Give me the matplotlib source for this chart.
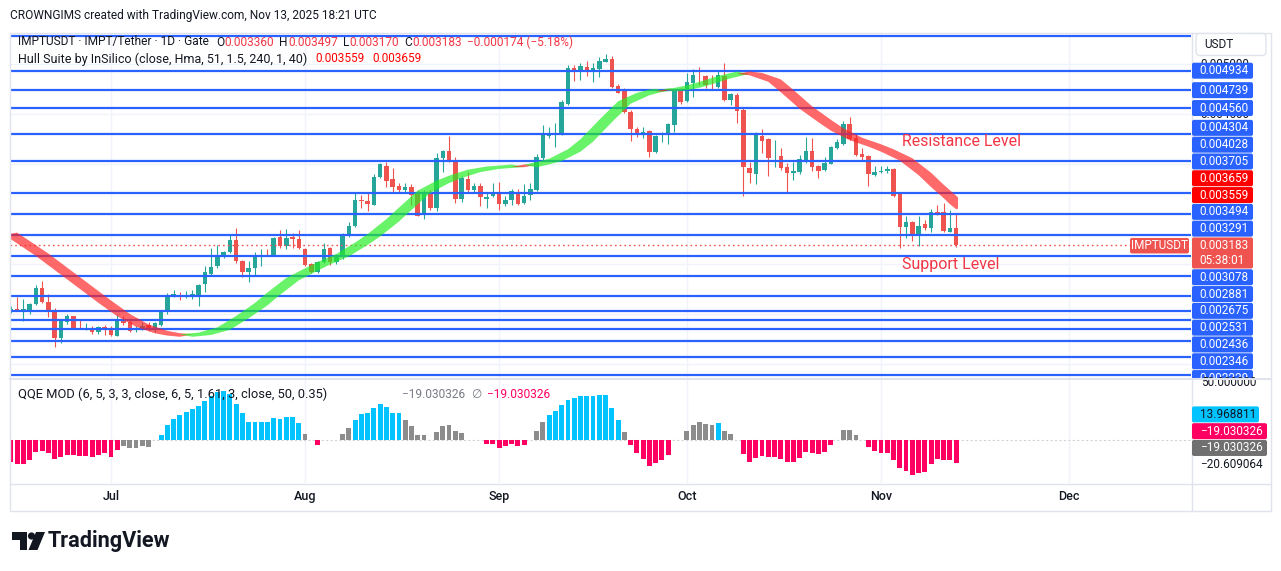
import numpy as np
import pandas as pd
import matplotlib
matplotlib.use('Agg')
import matplotlib.pyplot as plt
import matplotlib.dates as mdates
from matplotlib.patches import Rectangle, Polygon, FancyBboxPatch, Circle

plt.rcParams['font.family'] = ['Roboto', 'DejaVu Sans']

# ---------------- data ----------------
dates = pd.date_range('2025-06-15', '2025-11-13', freq='D')

open_ = [25.20e-4, 25.47e-4, 25.30e-4, 25.40e-4, 25.93e-4, 27.60e-4, 26.17e-4, 25.40e-4, 22.53e-4, 24.17e-4, 24.77e-4, 23.60e-4, 23.50e-4, 23.60e-4, 23.13e-4, 23.67e-4,
         23.60e-4, 22.80e-4, 24.37e-4, 24.20e-4, 23.50e-4, 23.50e-4, 23.90e-4, 23.40e-4, 23.90e-4, 25.13e-4,
         26.87e-4, 26.90e-4, 26.67e-4, 26.83e-4, 26.83e-4, 27.93e-4, 29.00e-4, 29.73e-4, 30.73e-4, 31.17e-4,
         32.40e-4, 30.30e-4, 29.20e-4, 29.53e-4, 30.67e-4, 30.87e-4, 30.83e-4, 32.63e-4, 31.80e-4, 32.67e-4,
         32.50e-4, 31.50e-4, 30.00e-4, 29.13e-4, 30.17e-4, 31.60e-4, 30.20e-4, 30.73e-4, 32.83e-4, 33.77e-4,
         36.40e-4, 36.30e-4, 35.93e-4, 38.70e-4, 39.80e-4, 38.47e-4, 37.80e-4, 37.40e-4, 37.70e-4, 37.00e-4,
         34.87e-4, 37.23e-4, 35.63e-4, 40.57e-4, 41.30e-4, 40.37e-4, 36.50e-4, 38.50e-4, 37.40e-4, 37.80e-4,
         36.47e-4, 36.74e-4, 37.04e-4, 36.01e-4, 36.34e-4, 37.18e-4, 36.08e-4, 36.84e-4, 37.34e-4, 40.58e-4,
         42.81e-4, 42.94e-4, 42.94e-4, 46.01e-4, 49.58e-4, 49.28e-4, 49.68e-4, 49.41e-4, 49.54e-4, 50.24e-4,
         50.51e-4, 47.81e-4, 47.41e-4, 45.24e-4, 43.48e-4, 43.14e-4, 43.31e-4, 41.24e-4, 42.88e-4, 42.88e-4,
         43.91e-4, 47.51e-4, 46.31e-4, 48.14e-4, 48.84e-4, 48.81e-4, 47.94e-4, 47.74e-4, 48.84e-4, 46.41e-4,
         46.91e-4, 45.41e-4, 39.64e-4, 39.01e-4, 42.81e-4, 42.48e-4, 40.78e-4, 40.78e-4, 39.71e-4, 39.08e-4,
         39.24e-4, 40.34e-4, 41.31e-4, 39.84e-4, 39.38e-4, 40.01e-4, 41.61e-4, 42.01e-4, 44.01e-4, 42.58e-4,
         41.01e-4, 40.81e-4, 38.84e-4, 39.21e-4, 39.28e-4, 39.48e-4, 37.01e-4, 33.68e-4, 34.14e-4, 32.81e-4,
         33.94e-4, 33.61e-4, 35.18e-4, 35.18e-4, 33.21e-4, 33.60e-4]
high = [25.73e-4, 26.63e-4, 26.47e-4, 26.07e-4, 27.90e-4, 28.23e-4, 27.00e-4, 25.57e-4, 24.50e-4, 24.93e-4, 24.80e-4, 24.50e-4, 24.10e-4, 23.73e-4, 23.80e-4, 23.90e-4,
        23.73e-4, 24.90e-4, 24.73e-4, 24.37e-4, 23.73e-4, 24.13e-4, 24.13e-4, 24.13e-4, 25.33e-4, 27.03e-4,
        27.33e-4, 27.13e-4, 27.23e-4, 27.40e-4, 28.00e-4, 29.73e-4, 31.53e-4, 31.90e-4, 31.30e-4, 32.87e-4,
        33.60e-4, 30.40e-4, 30.23e-4, 31.13e-4, 31.47e-4, 31.47e-4, 32.70e-4, 33.40e-4, 33.50e-4, 33.07e-4,
        33.33e-4, 31.57e-4, 30.07e-4, 30.30e-4, 32.07e-4, 31.70e-4, 31.00e-4, 33.07e-4, 34.20e-4, 37.07e-4,
        36.90e-4, 37.17e-4, 38.97e-4, 40.13e-4, 40.23e-4, 39.63e-4, 38.07e-4, 38.13e-4, 38.03e-4, 37.40e-4,
        37.40e-4, 37.40e-4, 41.07e-4, 41.40e-4, 42.80e-4, 40.73e-4, 38.80e-4, 39.17e-4, 38.13e-4, 38.13e-4,
        37.07e-4, 38.08e-4, 38.18e-4, 36.74e-4, 37.48e-4, 37.48e-4, 37.94e-4, 38.08e-4, 41.01e-4, 43.91e-4,
        43.74e-4, 44.08e-4, 46.41e-4, 49.91e-4, 49.91e-4, 50.14e-4, 50.31e-4, 50.08e-4, 50.74e-4, 51.01e-4,
        50.84e-4, 47.98e-4, 47.58e-4, 45.41e-4, 43.74e-4, 43.68e-4, 43.41e-4, 42.91e-4, 43.24e-4, 44.08e-4,
        47.48e-4, 47.64e-4, 49.08e-4, 49.48e-4, 49.74e-4, 48.91e-4, 48.91e-4, 49.34e-4, 50.08e-4, 47.14e-4,
        47.14e-4, 45.74e-4, 40.24e-4, 43.24e-4, 43.48e-4, 42.58e-4, 42.41e-4, 41.58e-4, 40.08e-4, 40.24e-4,
        40.91e-4, 42.74e-4, 42.58e-4, 39.91e-4, 40.68e-4, 41.84e-4, 42.48e-4, 44.31e-4, 44.74e-4, 43.01e-4,
        41.58e-4, 40.91e-4, 39.81e-4, 39.81e-4, 39.81e-4, 39.58e-4, 37.14e-4, 34.74e-4, 34.24e-4, 34.74e-4,
        34.41e-4, 35.48e-4, 35.91e-4, 36.08e-4, 35.34e-4, 34.97e-4]
low = [25.07e-4, 25.23e-4, 24.23e-4, 25.00e-4, 25.83e-4, 26.07e-4, 24.67e-4, 21.67e-4, 22.07e-4, 24.00e-4, 23.50e-4, 23.47e-4, 23.37e-4, 22.93e-4, 23.00e-4, 22.87e-4,
       22.73e-4, 22.73e-4, 23.83e-4, 23.13e-4, 23.13e-4, 23.40e-4, 23.30e-4, 23.13e-4, 23.73e-4, 25.00e-4,
       26.67e-4, 26.33e-4, 26.53e-4, 26.47e-4, 25.73e-4, 27.13e-4, 28.80e-4, 29.57e-4, 30.57e-4, 31.07e-4,
       30.07e-4, 28.67e-4, 28.13e-4, 28.83e-4, 29.73e-4, 30.73e-4, 30.73e-4, 31.53e-4, 31.50e-4, 31.57e-4,
       31.50e-4, 29.80e-4, 29.07e-4, 29.07e-4, 30.07e-4, 29.90e-4, 30.00e-4, 30.47e-4, 32.67e-4, 33.67e-4,
       35.57e-4, 35.30e-4, 35.87e-4, 38.63e-4, 37.73e-4, 37.07e-4, 37.07e-4, 37.17e-4, 35.90e-4, 34.80e-4,
       34.50e-4, 35.40e-4, 35.33e-4, 39.17e-4, 40.23e-4, 36.13e-4, 36.23e-4, 37.23e-4, 37.23e-4, 35.83e-4,
       35.63e-4, 36.64e-4, 35.34e-4, 35.81e-4, 35.88e-4, 35.88e-4, 36.01e-4, 36.34e-4, 37.31e-4, 40.41e-4,
       42.58e-4, 41.68e-4, 42.88e-4, 45.91e-4, 48.34e-4, 48.41e-4, 48.84e-4, 48.24e-4, 48.74e-4, 50.18e-4,
       47.64e-4, 47.08e-4, 45.08e-4, 42.34e-4, 42.74e-4, 42.64e-4, 40.74e-4, 41.14e-4, 42.24e-4, 42.01e-4,
       43.24e-4, 45.98e-4, 46.18e-4, 46.74e-4, 47.91e-4, 47.58e-4, 47.41e-4, 47.58e-4, 46.35e-4, 45.91e-4,
       44.14e-4, 36.74e-4, 38.08e-4, 38.01e-4, 41.14e-4, 38.74e-4, 39.74e-4, 39.41e-4, 37.08e-4, 38.41e-4,
       39.01e-4, 40.08e-4, 39.34e-4, 38.58e-4, 39.34e-4, 39.98e-4, 41.51e-4, 41.91e-4, 42.41e-4, 40.81e-4,
       40.31e-4, 37.74e-4, 38.81e-4, 39.14e-4, 39.08e-4, 36.64e-4, 31.58e-4, 32.58e-4, 32.24e-4, 31.81e-4,
       33.41e-4, 33.14e-4, 34.84e-4, 33.14e-4, 33.14e-4, 31.70e-4]
close = [25.47e-4, 25.27e-4, 25.50e-4, 26.00e-4, 27.60e-4, 26.13e-4, 25.23e-4, 22.60e-4, 24.37e-4, 24.80e-4, 23.57e-4, 23.50e-4, 23.57e-4, 23.13e-4, 23.67e-4, 23.47e-4,
         22.83e-4, 24.47e-4, 24.10e-4, 23.30e-4, 23.57e-4, 23.80e-4, 23.40e-4, 24.03e-4, 25.23e-4, 26.70e-4,
         26.93e-4, 26.83e-4, 26.73e-4, 26.93e-4, 27.90e-4, 29.20e-4, 29.70e-4, 30.83e-4, 31.20e-4, 32.40e-4,
         30.23e-4, 29.20e-4, 29.60e-4, 30.80e-4, 30.90e-4, 30.80e-4, 32.60e-4, 31.80e-4, 32.60e-4, 32.43e-4,
         31.53e-4, 29.90e-4, 29.13e-4, 30.17e-4, 31.50e-4, 30.17e-4, 30.83e-4, 32.87e-4, 33.77e-4, 36.40e-4,
         36.30e-4, 36.03e-4, 38.70e-4, 39.97e-4, 38.33e-4, 37.73e-4, 37.40e-4, 37.70e-4, 36.90e-4, 34.83e-4,
         37.20e-4, 35.57e-4, 40.57e-4, 41.30e-4, 40.33e-4, 36.50e-4, 38.63e-4, 37.40e-4, 37.83e-4, 36.73e-4,
         36.73e-4, 37.08e-4, 36.01e-4, 36.41e-4, 37.31e-4, 36.01e-4, 36.81e-4, 37.48e-4, 40.68e-4, 42.94e-4,
         42.98e-4, 43.01e-4, 46.21e-4, 49.58e-4, 49.24e-4, 49.81e-4, 49.41e-4, 49.58e-4, 50.31e-4, 50.51e-4,
         47.74e-4, 47.14e-4, 45.21e-4, 43.48e-4, 43.08e-4, 43.24e-4, 41.18e-4, 42.81e-4, 43.01e-4, 43.98e-4,
         47.41e-4, 46.21e-4, 48.21e-4, 48.91e-4, 48.78e-4, 47.88e-4, 47.88e-4, 48.88e-4, 46.41e-4, 47.04e-4,
         45.34e-4, 39.68e-4, 39.08e-4, 43.01e-4, 42.31e-4, 40.64e-4, 40.84e-4, 39.64e-4, 39.08e-4, 39.34e-4,
         40.51e-4, 41.31e-4, 39.68e-4, 39.34e-4, 40.08e-4, 41.74e-4, 42.24e-4, 44.01e-4, 42.48e-4, 40.91e-4,
         40.68e-4, 38.94e-4, 39.21e-4, 39.28e-4, 39.48e-4, 36.81e-4, 33.64e-4, 34.14e-4, 32.81e-4, 33.81e-4,
         33.54e-4, 35.18e-4, 35.11e-4, 33.24e-4, 33.61e-4, 31.83e-4]

# Hull Suite (MHULL) read at sample dates
hull_dates = ['2025-06-14', '2025-06-19', '2025-06-24', '2025-06-29', '2025-07-02', '2025-07-05', '2025-07-08',
              '2025-07-10', '2025-07-12', '2025-07-15', '2025-07-18', '2025-07-21', '2025-07-24', '2025-07-26',
              '2025-07-29', '2025-07-31', '2025-08-03', '2025-08-06', '2025-08-09', '2025-08-11', '2025-08-14',
              '2025-08-16', '2025-08-19', '2025-08-22', '2025-08-24', '2025-08-27', '2025-08-30', '2025-09-02',
              '2025-09-03', '2025-09-05', '2025-09-07', '2025-09-09', '2025-09-12', '2025-09-14', '2025-09-17',
              '2025-09-20', '2025-09-23', '2025-09-25', '2025-09-26', '2025-09-27', '2025-09-29', '2025-10-01',
              '2025-10-03', '2025-10-06', '2025-10-09', '2025-10-11', '2025-10-14', '2025-10-16', '2025-10-19',
              '2025-10-22', '2025-10-24', '2025-10-27', '2025-10-30', '2025-11-01', '2025-11-04', '2025-11-07',
              '2025-11-09', '2025-11-11', '2025-11-12', '2025-11-13']
hull_vals = [33.0e-4, 30.9e-4, 28.55e-4, 26.2e-4, 24.85e-4, 23.8e-4, 23.15e-4, 22.92e-4, 22.80e-4, 22.98e-4,
             23.5e-4, 24.65e-4, 25.95e-4, 27.0e-4, 28.45e-4, 29.1e-4, 30.05e-4, 30.85e-4, 32.0e-4, 32.85e-4,
             34.35e-4, 35.5e-4, 37.2e-4, 38.2e-4, 38.7e-4, 39.3e-4, 39.62e-4, 39.76e-4, 39.82e-4, 39.79e-4,
             40.08e-4, 40.4e-4, 41.35e-4, 42.35e-4, 44.3e-4, 46.15e-4, 47.0e-4, 47.33e-4, 47.40e-4, 47.37e-4,
             47.5e-4, 47.75e-4, 48.1e-4, 48.7e-4, 49.14e-4, 49.0e-4, 48.35e-4, 47.3e-4, 45.65e-4, 44.3e-4,
             43.45e-4, 42.5e-4, 41.85e-4, 41.35e-4, 40.45e-4, 39.0e-4, 37.8e-4, 36.7e-4, 36.09e-4, 35.59e-4]
hull_last = [0.003559, 0.003659]

# horizontal drawn levels
levels = [0.005281, 0.004934, 0.004739, 0.004560, 0.004304, 0.004028, 0.003705, 0.003494, 0.003291,
          0.003078, 0.002881, 0.002675, 0.002531, 0.002436, 0.002346, 0.002229, 0.002061, 0.001881]
price_ticks = [0.0050, 0.0045, 0.0040, 0.0035, 0.0030, 0.0025, 0.0020]

# QQE MOD histogram
qqe_vals = [-18.1, -20.0, -20.0, -16.7, -9.7, -9.2, -10.6, -15.8, -13.9, -12.5, -12.5, -13.1, -13.3, -13.9, -12.5, -11.1,
            -13.9, -8.3, -5.0, -6.4, -6.4, -5.0, -5.6, 0.0, 4.2, 12.5,
            17.2, 20.8, 23.6, 25.6, 28.3, 32.8, 36.7, 40.3, 41.1, 38.3,
            30.0, 22.2, 15.3, 14.7, 14.7, 14.7, 18.6, 17.2, 18.9, 18.9,
            14.4, 5.0, 0.0, -3.9, 0.0, 0.0, 0.0, 5.0, 9.7, 16.7,
            21.4, 22.8, 26.4, 30.0, 27.2, 22.8, 22.2, 16.7, 11.7, 4.2,
            4.2, 0.0, 6.9, 11.7, 12.5, 7.8, 5.6, 0.0, 0.0, 0.0,
            -3.3, -3.3, -6.9, -5.0, -3.3, -5.0, -4.2, 0.0, 7.8, 14.7,
            20.8, 24.4, 29.2, 33.3, 35.3, 36.9, 36.9, 36.9, 37.5, 37.5,
            26.9, 16.7, 6.7, -3.9, -10.6, -15.6, -21.4, -18.9, -16.7, -12.2,
            0.0, 0.0, 7.5, 12.5, 15.0, 13.3, 12.5, 14.2, 7.5, 5.0,
            0.0, -11.7, -18.1, -15.0, -13.3, -13.9, -13.9, -15.6, -18.1, -18.1,
            -15.0, -9.7, -10.6, -11.7, -9.7, -3.9, 0.0, 8.3, 8.3, 4.2,
            0.0, -5.6, -8.9, -10.6, -10.6, -16.7, -23.1, -25.6, -28.9, -27.2,
            -26.4, -20.0, -15.6, -16.7, -16.7, -19.030326]
qqe_state = ("pppppppppppppppppp" "gggggg" "ccccccccccccccccccccccc" "g" "g" "p" "ggg" "gg" "cccccccc"
             "gggggggggg" "ggg" "ppppppp" "g" "gg" "cccccccccccc" "g" "ppppppp" "gg" "ggggg" "c" "ggg"
             "ppppppppppppppp" "ggggg" "ppppppppppppppp")
# axis labels of the QQE pane (bottom-up stacking order for equal values)
qqe_labels = [(-20.609064, '\u221220.609064', None, '#131722'),
              (-19.030326, '\u221219.030326', '#707070', 'white'),
              (-19.030326, '\u221219.030326', '#ff0062', 'white'),
              (13.968811, '13.968811', '#00c3ff', '#131722')]

months = ['2025-07-01', '2025-08-01', '2025-09-01', '2025-10-01', '2025-11-01', '2025-12-01']
month_labels = ['Jul', 'Aug', 'Sep', 'Oct', 'Nov', 'Dec']

# ---------------- colors ----------------
UP, DN = '#26a69a', '#ef5350'
BLUE = '#2962ff'
TXT = '#131722'
GRID = '#f0f3fa'
BORDER = '#e0e3eb'
RED = '#f23645'
QC = {'p': '#ff0062', 'g': '#8c8c8c', 'c': '#00c3ff'}

# ---------------- figure ----------------
W, H = 1281, 571
fig = plt.figure(figsize=(W / 100, H / 100), dpi=100)
fig.patch.set_facecolor('white')

L, R = 10, 1191
MT, MB = 33, 378
QT, QB = 379, 483
ax = fig.add_axes([L / W, 1 - MB / H, (R - L) / W, (MB - MT) / H])
ax2 = fig.add_axes([L / W, 1 - QB / H, (R - L) / W, (QB - QT) / H])

xs = mdates.date2num(dates)
jul1 = mdates.date2num(pd.Timestamp('2025-07-01'))
xmin, xmax = jul1 - 16.13, jul1 + 172.52
for a in (ax, ax2):
    a.set_xlim(xmin, xmax)
    for s in a.spines.values():
        s.set_visible(False)
    a.set_yticks([])
    a.set_facecolor('white')
ax.set_ylim(0.0018549, 0.0053118)
ax2.set_ylim(-35.8, 50.9)
ax.set_xticks([])

mnum = mdates.date2num(pd.to_datetime(months))
ax.vlines(mnum, 0.0018549, 0.0053118, color=GRID, lw=1, zorder=0)
ax2.vlines(mnum, -35.8, 50.9, color=GRID, lw=1, zorder=0)
ax.hlines(price_ticks, xmin, xmax, color=GRID, lw=1, zorder=0)

# candles
o = np.array(open_); h = np.array(high); l = np.array(low); c = np.array(close)
col = np.where(c >= o, UP, DN)
ax.vlines(xs, l, h, colors=col, lw=0.8, zorder=2)
ax.bar(xs, np.maximum(np.abs(c - o), 0.0000025), bottom=np.minimum(o, c), width=0.72,
       color=col, linewidth=0, zorder=3)

# horizontal levels
ax.hlines(levels, xmin, xmax, color=BLUE, lw=1.6, zorder=4)
ax.hlines(c[-1], xmin, xmax, color=DN, lw=1.0, linestyles=(0, (1.2, 2.2)), zorder=4)

# Hull band (MHULL vs MHULL two bars earlier)
hx = mdates.date2num(pd.to_datetime(hull_dates))
hv = np.array(hull_vals)
pad = 0.000012
dirs = np.sign(np.diff(hv))
clip = Rectangle((xmin, 0), xs[-1] + 0.35 - xmin, 1, transform=ax.transData)
i = 0
while i < len(dirs):
    s = dirs[i]
    j = i
    while j + 1 < len(dirs) and dirs[j + 1] == s:
        j += 1
    idx = list(range(i, j + 2))
    upper = [(hx[k], hv[k] + s * pad) for k in idx]
    lower = [(hx[k] + 2, hv[k] - s * pad) for k in reversed(idx)]
    poly = Polygon(upper + lower, closed=True, facecolor=('#22ee22' if s > 0 else '#ff2222'),
                   alpha=0.68, edgecolor='none', zorder=6)
    ax.add_patch(poly)
    poly.set_clip_path(clip)
    i = j + 1

# QQE histogram
qcols = [QC[k] for k in qqe_state]
ax2.bar(xs, qqe_vals, width=0.78, color=qcols, linewidth=0, zorder=2)
ax2.hlines(0, xmin, xmax, color='#d0d3da', lw=0.8, linestyles=(0, (2, 2)), zorder=1)
ax2.set_xticks(mnum)
ax2.set_xticklabels(month_labels, fontsize=9, color=TXT, fontweight='medium')
ax2.tick_params(axis='x', length=0, pad=5)

# ---------------- overlay (pixel coords) ----------------
ov = fig.add_axes([0, 0, 1, 1])
ov.set_zorder(20)
ov.set_xlim(0, W)
ov.set_ylim(H, 0)
ov.axis('off')
ov.patch.set_alpha(0)
rend = fig.canvas.get_renderer()


def ypx(a, v):
    return H - a.transData.transform((xs[0], v))[1]


def seq(x, y, pieces, fs):
    for s, cc, gap, f in pieces:
        t = ov.text(x, y, s, fontsize=f or fs, color=cc, va='center')
        x += t.get_window_extent(renderer=rend).width + gap


# header
ov.text(10, 15, 'CROWNGIMS created with TradingView.com, Nov 13, 2025 18:21 UTC', fontsize=8.55,
        color=TXT, va='center', ha='left')

# frame
ov.add_patch(Rectangle((9.5, 32.5), 1261, 478, fill=False, edgecolor=BORDER, lw=1, zorder=1))
ov.plot([R + 0.5, R + 0.5], [32.5, 510.5], color=BORDER, lw=1, zorder=1)
ov.plot([9.5, 1270.5], [378.5, 378.5], color=BORDER, lw=1.5, zorder=8)
ov.plot([9.5, 1270.5], [483.5, 483.5], color=BORDER, lw=1, zorder=1)

# legend lines
FL = 8.6
seq(18, 42, [('IMPTUSDT \u00b7 IMPT/Tether \u00b7 1D \u00b7 Gate', TXT, 7, None), ('O', TXT, 0.5, None),
             ('0.003360', RED, 5, None), ('H', TXT, 0.5, None), ('0.003497', RED, 5, None),
             ('L', TXT, 0.5, None), ('0.003170', RED, 5, None), ('C', TXT, 0.5, None),
             ('0.003183', RED, 5, None), ('\u22120.000174 (\u22125.18%)', RED, 0, None)], FL)
seq(18, 59, [('Hull Suite by InSilico (close, Hma, 51, 1.5, 240, 1, 40)', TXT, 8, 9.0),
             ('%.6f' % hull_last[0], '#ff0000', 8, 8.5), ('%.6f' % hull_last[1], '#ff0000', 0, 8.5)], FL)
seq(18, 394, [('QQE MOD (6, 5, 3, 3, close, 6, 5, 1.61, 3, close, 50, 0.35)', TXT, 0, 9.3)], FL)
seq(402, 394, [('\u221219.030326', '#787b86', 6, None), ('\u2205', '#787b86', 6, None),
               ('\u221219.030326', '#ff0062', 0, None)], 8.6)

# annotations
ov.text(902, 142, 'Resistance Level', fontsize=11.4, color=RED, va='center', ha='left')
ov.text(902, 264, 'Support Level', fontsize=11.5, color=RED, va='center', ha='left')

FS = 8.5
clip_main = Rectangle((1150, 56.5), 130, 322, transform=ov.transData)

# stacked price labels
STEP = 16.8
cur = c[-1]
yc = ypx(ax, cur)
lab = [(p, BLUE) for p in levels] + [(p, '#ff0000') for p in hull_last]
above = sorted([t for t in lab if t[0] > cur], key=lambda t: t[0])
below = sorted([t for t in lab if t[0] < cur], key=lambda t: -t[0])
placed = []
prev = yc
for p, bg in above:
    y = min(ypx(ax, p), prev - STEP)
    placed.append((p, bg, y)); prev = y
prev = yc + 15
for p, bg in below:
    y = max(ypx(ax, p), prev + STEP)
    placed.append((p, bg, y)); prev = y
for p, bg, y in placed:
    b = FancyBboxPatch((1192, y - 8), 61, 16, boxstyle='round,pad=0,rounding_size=2',
                       facecolor=bg, edgecolor='none', zorder=2)
    ov.add_patch(b); b.set_clip_path(clip_main)
    t = ov.text(1199, y, '%.6f' % p, fontsize=FS, color='white', va='center', zorder=3)
    t.set_clip_path(clip_main)

# price axis tick labels, only the ones peeking out between labels
box_y = [y for _, _, y in placed] + [yc, yc + 15]
for p in price_ticks:
    yt = ypx(ax, p)
    if min(abs(yt - yb) for yb in box_y) > 5:
        t = ov.text(1200, yt, '%.6f' % p, fontsize=FS, color=TXT, va='center', zorder=1)
        t.set_clip_path(clip_main)

# current price label
ov.add_patch(FancyBboxPatch((1192, yc - 8), 61, 31, boxstyle='round,pad=0,rounding_size=2',
                            facecolor=DN, edgecolor='none', zorder=2))
ov.text(1199, yc, '%.6f' % cur, fontsize=FS, color='white', va='center', zorder=3)
ov.text(1199, yc + 15, '05:38:01', fontsize=FS, color='white', va='center', zorder=3)
ov.add_patch(FancyBboxPatch((1130, yc - 7.5), 59, 15.5, boxstyle='round,pad=0,rounding_size=2',
                            facecolor=DN, edgecolor='none', zorder=2))
ov.text(1159.5, yc, 'IMPTUSDT', fontsize=FS, color='white', va='center', ha='center', zorder=3)

# USDT box
ov.add_patch(FancyBboxPatch((1196, 33.5), 70, 22, boxstyle='round,pad=0,rounding_size=4',
                            facecolor='white', edgecolor=BORDER, lw=1, zorder=9))
ov.text(1204, 44.5, 'USDT', fontsize=FS, color=TXT, va='center', zorder=10)

# QQE axis column
ov.text(1201, ypx(ax2, 50) + 2, '50.000000', fontsize=FS, color=TXT, va='center', zorder=7)
prev = 1e9
for v, s, bg, fg in qqe_labels:
    y = min(ypx(ax2, v), prev - STEP)
    prev = y
    if bg is not None:
        wbox = 67 if v > 0 else 75
        ov.add_patch(FancyBboxPatch((1192, y - 8), wbox, 16, boxstyle='round,pad=0,rounding_size=2',
                                    facecolor=bg, edgecolor='none', zorder=7))
    ov.text(1200, y, s, fontsize=FS, color=fg, va='center', zorder=8)

# TradingView logo
ov.add_patch(Polygon([(12, 532), (27, 532), (27, 550), (20, 550), (20, 540), (12, 540)],
                     closed=True, facecolor=TXT, edgecolor='none'))
ov.add_patch(Circle((31.5, 536), 3.6, facecolor=TXT, edgecolor='none'))
ov.add_patch(Polygon([(36, 532), (45, 532), (37.5, 550), (28.5, 550)], closed=True, facecolor=TXT, edgecolor='none'))
ov.text(48, 541.5, 'TradingView', fontsize=15.6, fontweight='bold', color=TXT, va='center')

fig.savefig('out.png', dpi=100, facecolor='white')
